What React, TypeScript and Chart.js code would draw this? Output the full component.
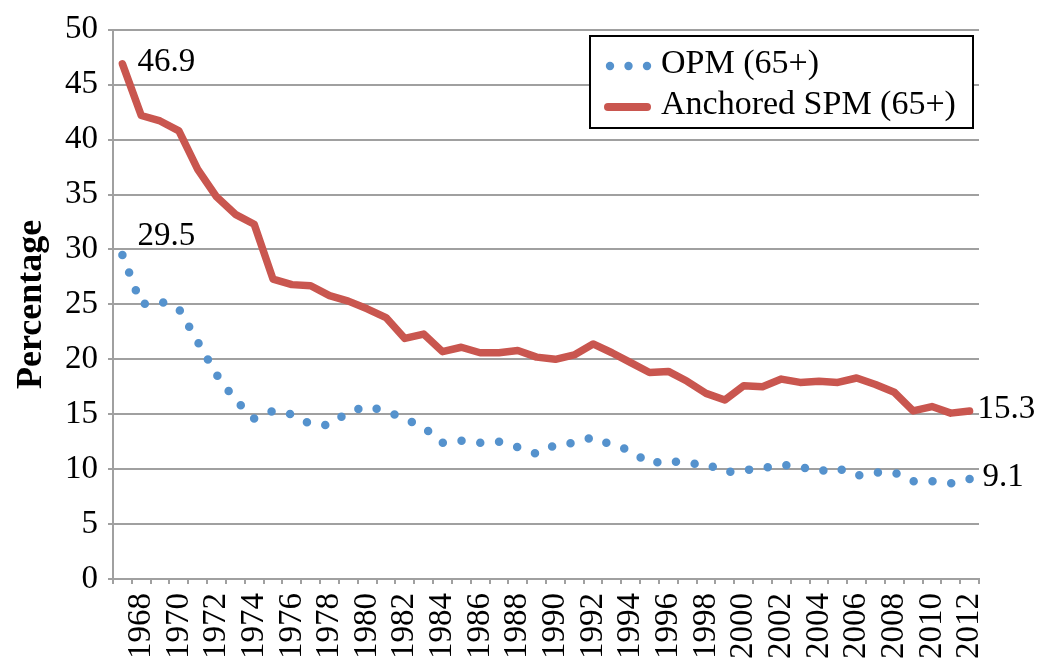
import React, { useEffect, useRef } from "react";
import { Chart, registerables } from "chart.js";

Chart.register(...registerables);

const years = [
  "1967", "1968", "1969", "1970", "1971", "1972", "1973", "1974", "1975", "1976",
  "1977", "1978", "1979", "1980", "1981", "1982", "1983", "1984", "1985", "1986",
  "1987", "1988", "1989", "1990", "1991", "1992", "1993", "1994", "1995", "1996",
  "1997", "1998", "1999", "2000", "2001", "2002", "2003", "2004", "2005", "2006",
  "2007", "2008", "2009", "2010", "2011", "2012",
];

const opm = [
  29.5, 25.0, 25.3, 24.6, 21.6, 18.6, 16.3, 14.6, 15.3, 15.0,
  14.1, 14.0, 15.2, 15.7, 15.3, 14.6, 13.8, 12.4, 12.6, 12.4,
  12.5, 12.0, 11.4, 12.2, 12.4, 12.9, 12.2, 11.7, 10.5, 10.8,
  10.5, 10.5, 9.7, 9.9, 10.1, 10.4, 10.2, 9.8, 10.1, 9.4,
  9.7, 9.7, 8.9, 8.9, 8.7, 9.1,
];

const spm = [
  46.9, 42.2, 41.7, 40.8, 37.3, 34.8, 33.2, 32.3, 27.3, 26.8,
  26.7, 25.8, 25.3, 24.6, 23.8, 21.9, 22.3, 20.7, 21.1, 20.6,
  20.6, 20.8, 20.2, 20.0, 20.4, 21.4, 20.6, 19.7, 18.8, 18.9,
  18.0, 16.9, 16.3, 17.6, 17.5, 18.2, 17.9, 18.0, 17.9, 18.3,
  17.7, 17.0, 15.3, 15.7, 15.1, 15.3,
];

const seriesNames = ["OPM (65+)", "Anchored SPM (65+)"];
const yAxisTitle = "Percentage";

const FONT = "'Liberation Serif', 'Times New Roman', serif";
const GRID = "#A0A0A0";
const BLUE = "#5592CD";
const RED = "#C9564F";
const LEGEND_FS = 34;
const DOT_GAP = 18.7;

// offsets [dx, dy] for the first / last value labels of each dataset
const labelOffsets = [
  [[15, -10], [13, 7]],
  [[15, 7], [8, 7]],
];

// dot spacing adjusted so that the dotted path ends on a dot
function dotDash(c: any) {
  const sx = c.chart.scales?.x;
  const sy = c.chart.scales?.y;
  if (!sx || !sy) return [0, DOT_GAP];
  let len = 0;
  for (let i = 1; i < opm.length; i++) {
    const dx = sx.getPixelForValue(i) - sx.getPixelForValue(i - 1);
    const dy = sy.getPixelForValue(opm[i]) - sy.getPixelForValue(opm[i - 1]);
    len += Math.hypot(dx, dy);
  }
  if (!isFinite(len) || len <= 0) return [0, DOT_GAP];
  const n = Math.max(1, Math.round(len / DOT_GAP));
  return [0, len / n];
}

const endLabelsPlugin = {
  id: "endLabels",
  afterDatasetsDraw(chart: any) {
    const ctx = chart.ctx;
    ctx.save();
    ctx.font = `33px ${FONT}`;
    ctx.fillStyle = "#000";
    ctx.textAlign = "left";
    ctx.textBaseline = "alphabetic";
    chart.data.datasets.forEach((ds: any, di: number) => {
      const meta = chart.getDatasetMeta(di);
      const idxs = [0, meta.data.length - 1];
      idxs.forEach((pi, k) => {
        const p = meta.data[pi];
        const v = ds.data[pi] as number;
        const [dx, dy] = labelOffsets[di][k];
        ctx.fillText(v.toFixed(1), p.x + dx, p.y + dy);
      });
    });
    ctx.restore();
  },
};

const legendPlugin = {
  id: "boxLegend",
  afterDraw(chart: any) {
    const ctx = chart.ctx;
    ctx.save();
    const x0 = 590, y0 = 36, w = 383, h = 92;
    ctx.fillStyle = "#fff";
    ctx.fillRect(x0, y0, w, h);
    ctx.strokeStyle = "#000";
    ctx.lineWidth = 2;
    ctx.strokeRect(x0, y0, w, h);
    ctx.fillStyle = BLUE;
    [610, 628.5, 647].forEach((cx) => {
      ctx.beginPath();
      ctx.arc(cx, 66, 4.2, 0, Math.PI * 2);
      ctx.fill();
    });
    ctx.strokeStyle = RED;
    ctx.lineWidth = 8;
    ctx.lineCap = "round";
    ctx.beginPath();
    ctx.moveTo(608, 107);
    ctx.lineTo(647, 107);
    ctx.stroke();
    ctx.fillStyle = "#000";
    ctx.font = `${LEGEND_FS}px ${FONT}`;
    ctx.textAlign = "left";
    ctx.textBaseline = "alphabetic";
    ctx.fillText(seriesNames[0], 661, 73);
    ctx.fillText(seriesNames[1], 661, 114);
    ctx.restore();
  },
};

export default function App() {
  const ref = useRef<HTMLCanvasElement | null>(null);

  useEffect(() => {
    if (!ref.current) return;
    const chart = new Chart(ref.current, {
      type: "line",
      data: {
        labels: years,
        datasets: [
          {
            label: seriesNames[0],
            data: opm,
            borderColor: BLUE,
            backgroundColor: BLUE,
            borderWidth: 8.5,
            borderDash: dotDash,
            borderCapStyle: "round",
            borderJoinStyle: "round",
            pointRadius: 0,
            tension: 0,
            fill: false,
          },
          {
            label: seriesNames[1],
            data: spm,
            borderColor: RED,
            borderWidth: 7.5,
            borderCapStyle: "round",
            borderJoinStyle: "round",
            pointRadius: 0,
            tension: 0,
            fill: false,
          },
        ],
      },
      options: {
        responsive: false,
        animation: false,
        events: [],
        layout: { padding: { top: 27, right: 66, bottom: 0, left: 0 } },
        plugins: {
          legend: { display: false },
          tooltip: { enabled: false },
        },
        scales: {
          x: {
            type: "category",
            offset: true,
            grid: {
              display: true,
              drawOnChartArea: false,
              drawTicks: true,
              tickLength: 5,
              offset: true,
              color: GRID,
              lineWidth: 2,
            },
            border: { display: true, color: GRID, width: 2 },
            ticks: {
              autoSkip: false,
              maxRotation: 90,
              minRotation: 90,
              padding: 9,
              color: "#000",
              font: { family: FONT, size: 33 },
              callback: (_v: any, i: number) => (i % 2 === 1 ? years[i] : ""),
            },
            afterFit: (s: any) => {
              s.height = 91;
            },
          },
          y: {
            min: 0,
            max: 50,
            ticks: {
              stepSize: 5,
              padding: 10,
              color: "#000",
              font: { family: FONT, size: 33 },
            },
            grid: {
              color: GRID,
              lineWidth: 2,
              tickLength: 5,
              drawTicks: true,
            },
            border: { display: true, color: GRID, width: 2 },
            title: {
              display: true,
              text: yAxisTitle,
              color: "#000",
              font: { family: FONT, size: 36, weight: "bold" },
              padding: { top: 10, bottom: 0 },
            },
            afterFit: (s: any) => {
              s.width = 113;
            },
          },
        },
      },
      plugins: [endLabelsPlugin, legendPlugin],
    } as any);
    return () => chart.destroy();
  }, []);

  return (
    <div style={{ position: "fixed", left: 0, top: 0, width: 1045, height: 670, background: "#fff" }}>
      <canvas ref={ref} width={1045} height={670} style={{ display: "block" }} />
    </div>
  );
}
